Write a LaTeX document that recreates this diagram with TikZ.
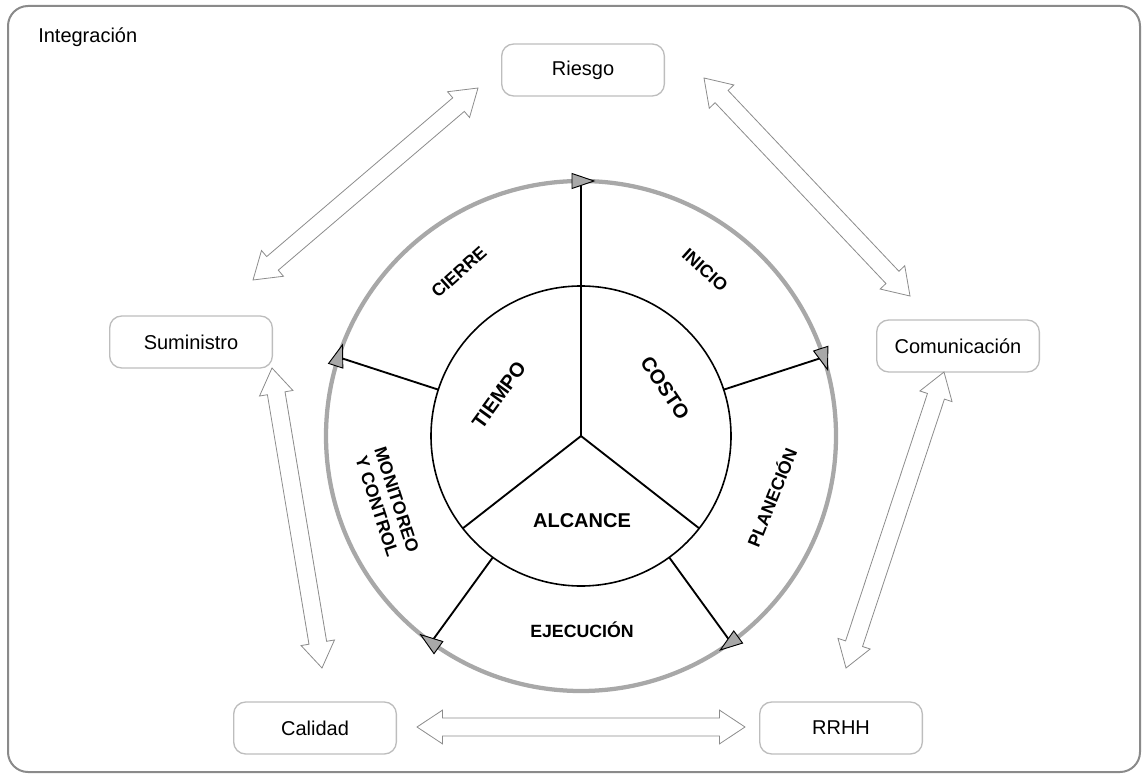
\documentclass[tikz,border=0pt]{standalone}
\usepackage{fontspec}
\setmainfont{Liberation Sans}
\usetikzlibrary{shapes.arrows,calc}
\definecolor{ringgray}{HTML}{A8A8A8}
\definecolor{boxgray}{HTML}{BDBDBD}
\definecolor{arrgray}{HTML}{8C8C8C}
\definecolor{framegray}{HTML}{8A8A8A}
\newcommand\dblink[2]{\path let \p1=(#1), \p2=(#2), \n1={atan2(\y2-\y1,\x2-\x1)}, \n2={veclen(\x2-\x1,\y2-\y1)} in node[dblarr, rotate=\n1, minimum height=\n2] at ($(\p1)!0.5!(\p2)$) {};}
\newcommand\ringtip[1]{\draw[tipsty, shift={(ring.#1)}, rotate=#1-90] (13,0) -- (-9,7.5) -- (-9,-7.5) -- cycle;}
\begin{document}
\begin{tikzpicture}[x=0.75pt,y=-0.75pt,
  box/.style={draw=boxgray, line width=1pt, rounded corners=9pt, minimum width=122pt, minimum height=39pt, inner sep=0pt, font=\fontsize{15}{18}\selectfont},
  dblarr/.style={double arrow, draw=arrgray, fill=white, line width=0.6pt, double arrow head extend=6pt, double arrow tip angle=67, inner xsep=0pt, inner ysep=6.4pt, outer sep=0pt},
  spoke/.style={line width=1.4pt},
  tipsty/.style={fill=ringgray, draw=black, line width=0.7pt, line join=miter},
  corelab/.style={font=\bfseries\fontsize{15}{18}\selectfont, inner sep=0pt},
  ringlab/.style={font=\bfseries\fontsize{13.3}{15.5}\selectfont, inner sep=0pt, align=center}]
\useasboundingbox (0,0) rectangle (1148,780);
\draw[framegray, line width=1.5pt, rounded corners=15pt] (8,6) rectangle (1140,772);
\node[anchor=base west, inner sep=0pt, font=\fontsize{15}{18}\selectfont] (title) at (38,43) {Integración};

% circles
\node[circle, draw=ringgray, line width=3.2pt, minimum size=382.5pt, inner sep=0pt, outer sep=0pt] (ring) at (581,436) {};
\node[circle, draw=black, line width=1.2pt, minimum size=225pt, inner sep=0pt, outer sep=0pt] (core) at (581,436) {};

% spokes
\draw[spoke] (core.center) -- (ring.90);
\draw[spoke] (core.center) -- (core.218);
\draw[spoke] (core.center) -- (core.-38);
\draw[spoke] (core.18) -- (ring.18);
\draw[spoke] (core.-54) -- (ring.-54);
\draw[spoke] (core.-126) -- (ring.-126);
\draw[spoke] (core.162) -- (ring.162);
\ringtip{90}
\ringtip{18}
\ringtip{-54}
\ringtip{-126}
\ringtip{162}

% labels
\node[corelab, rotate=54] (tiempo) at (499,395) {TIEMPO};
\node[corelab, rotate=-56] (costo) at (665,388) {COSTO};
\node[corelab] (alcance) at (582,521) {ALCANCE};
\node[ringlab, rotate=42] (cierre) at (459,272) {CIERRE};
\node[ringlab, rotate=-42] (inicio) at (705,270) {INICIO};
\node[ringlab, rotate=68] (planeacion) at (771,497) {PLANECIÓN};
\node[ringlab] (ejecucion) at (582,630) {EJECUCIÓN};
\node[ringlab, rotate=-72] (monitoreo) at (387,503) {MONITOREO\\Y CONTROL};

% boxes
\node[box] (riesgo) at (583,70) {Riesgo};
\node[box] (suministro) at (191,342) {Suministro};
\node[box] (comunicacion) at (958,346) {Comunicación};
\node[box] (calidad) at (315,728) {Calidad};
\node[box] (rrhh) at (841,728) {RRHH};

% double arrows
\coordinate (rs1) at (478,88); \coordinate (rs2) at (253,280);
\coordinate (rc1) at (704,78); \coordinate (rc2) at (910,296);
\coordinate (cr1) at (944,372); \coordinate (cr2) at (846,668);
\coordinate (sc1) at (272,368); \coordinate (sc2) at (322,668);
\coordinate (cq1) at (417,727); \coordinate (cq2) at (745,727);
\dblink{rs1}{rs2}
\dblink{rc1}{rc2}
\dblink{cr1}{cr2}
\dblink{sc1}{sc2}
\dblink{cq1}{cq2}
\end{tikzpicture}
\end{document}
